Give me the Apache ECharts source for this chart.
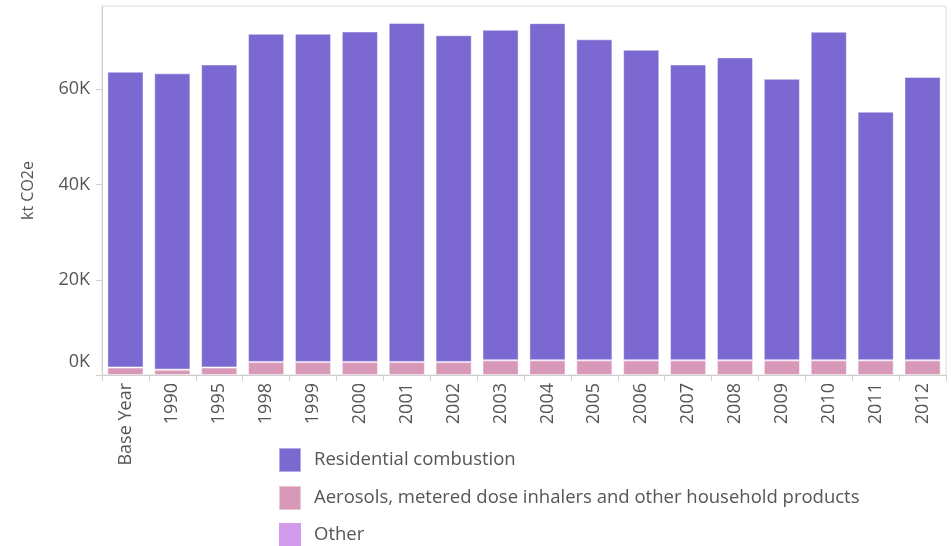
<!DOCTYPE html>
<html>
<head>
<meta charset="utf-8">
<script src="https://cdn.jsdelivr.net/npm/echarts@6/dist/echarts.min.js"></script>
<style>
  html, body { margin: 0; padding: 0; background: #fff; }
  #chart { width: 951px; height: 546px; }
</style>
</head>
<body>
<div id="chart"></div>
<script>
// categories and values (kt CO2e)
var years = ['Base Year', '1990', '1995', '1998', '1999', '2000', '2001', '2002', '2003',
  '2004', '2005', '2006', '2007', '2008', '2009', '2010', '2011', '2012']
var residential = [62100, 62200, 63600, 68900, 68900, 69400, 71200, 68600, 69400,
  70800, 67400, 65200, 62100, 63600, 59100, 69000, 52200, 59500]
var aerosols = [1550, 1100, 1550, 2700, 2700, 2700, 2700, 2700, 3050,
  3050, 3050, 3050, 3050, 3050, 3050, 3050, 3050, 3050]
var other = [50, 50, 50, 50, 50, 50, 50, 50, 50,
  50, 50, 50, 50, 50, 50, 50, 50, 50]

var font = '"Open Sans", "Noto Sans", sans-serif'
var chart = echarts.init(document.getElementById('chart'))

var barStyle = function (color) {
  return {
    color: color,
    borderColor: 'rgba(255,255,255,0.45)',
    borderWidth: 1,
  }
}

var option = {
  animation: false,
  textStyle: { fontFamily: font },
  grid: {
    left: 102,
    right: 5,
    top: 6,
    bottom: 171,
    show: true,
    borderColor: '#dcdcdc',
    borderWidth: 1,
  },
  legend: {
    orient: 'vertical',
    left: 278,
    top: 447,
    padding: 0,
    itemWidth: 22,
    itemHeight: 24,
    itemGap: 12,
    icon: 'rect',
    data: ['Residential combustion', 'Aerosols, metered dose inhalers and other household products', 'Other'],
    textStyle: { color: '#555', fontSize: 18.5, fontFamily: font, padding: [0, 0, 0, 8] },
  },
  xAxis: {
    type: 'category',
    data: years,
    axisLine: { lineStyle: { color: '#cfcfcf' } },
    axisTick: { show: true, length: 6, lineStyle: { color: '#cfcfcf' } },
    axisLabel: {
      rotate: 90,
      color: '#555',
      fontSize: 18,
      margin: 8,
      interval: 0,
    },
  },
  yAxis: {
    type: 'value',
    min: 0,
    max: 77500,
    interval: 20000,
    name: 'kt CO2e',
    nameLocation: 'middle',
    nameGap: 66,
    nameTextStyle: { color: '#555', fontSize: 16 },
    splitLine: { show: false },
    axisLine: { show: true, lineStyle: { color: '#cfcfcf' } },
    axisTick: { show: true, length: 6, lineStyle: { color: '#cfcfcf' } },
    axisLabel: {
      color: '#555',
      fontSize: 18,
      margin: 12,
      showMaxLabel: false,
      formatter: function (v) {
        if (v === 0) return '{z|0K}'
        return v / 1000 + 'K'
      },
      rich: {
        z: { color: '#555', fontSize: 18, padding: [0, 0, 26, 0] },
      },
    },
  },
  series: [
    {
      name: 'Aerosols, metered dose inhalers and other household products',
      type: 'bar',
      stack: 'total',
      barCategoryGap: '23%',
      data: aerosols,
      itemStyle: barStyle('#d898b8'),
    },
    {
      name: 'Other',
      type: 'bar',
      stack: 'total',
      data: other,
      itemStyle: { color: '#d39bec' },
    },
    {
      name: 'Residential combustion',
      type: 'bar',
      stack: 'total',
      data: residential,
      itemStyle: barStyle('#7b68d0'),
    },
  ],
}
chart.setOption(option)
</script>
</body>
</html>
